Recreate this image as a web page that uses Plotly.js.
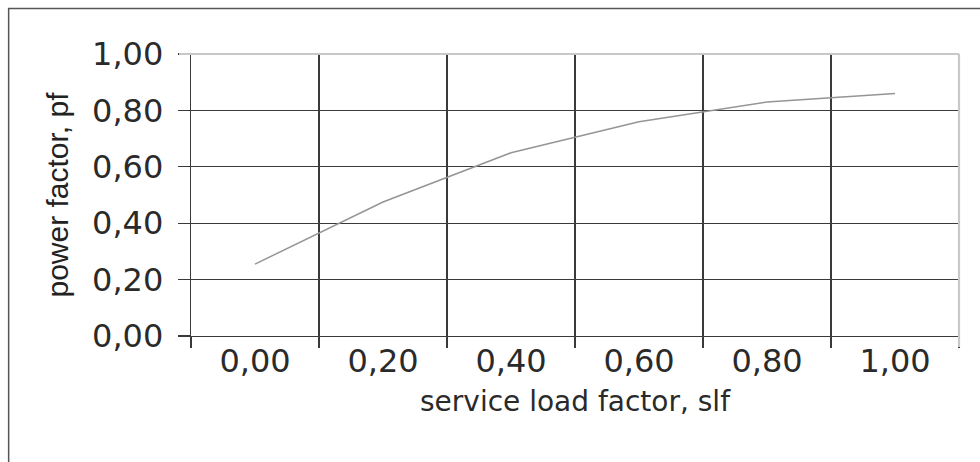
<!DOCTYPE html>
<html>
<head>
<meta charset="utf-8">
<script src="https://cdn.plot.ly/plotly-3.0.1.min.js"></script>
<style>html,body{margin:0;padding:0;background:#fff;}#chart{width:980px;height:462px;}</style>
</head>
<body>
<div id="chart"></div>
<script>
// Data
const slf = [0.0, 0.2, 0.4, 0.6, 0.8, 1.0];           // service load factor (categories)
const pf  = [0.255, 0.475, 0.65, 0.76, 0.83, 0.86];   // power factor
const gridX = [-0.1, 0.1, 0.3, 0.5, 0.7, 0.9, 1.1];   // category boundaries (gridlines)
const yTicks = [0, 0.2, 0.4, 0.6, 0.8, 1.0];

const trace = {
  x: slf, y: pf, type: 'scatter', mode: 'lines',
  line: {color: '#959595', width: 1.5},
  xaxis: 'x', yaxis: 'y', hoverinfo: 'skip', showlegend: false
};
// invisible trace to activate label axis
const labelTrace = {
  x: slf, y: pf, type: 'scatter', mode: 'lines',
  line: {color: 'rgba(0,0,0,0)', width: 0},
  xaxis: 'x2', yaxis: 'y', hoverinfo: 'skip', showlegend: false
};

const gridCol = '#3a3a3a';
const layout = {
  width: 980, height: 462,
  margin: {l: 191, r: 21, t: 54, b: 126},
  paper_bgcolor: '#ffffff', plot_bgcolor: '#ffffff',
  separators: ',.',
  showlegend: false,
  font: {family: 'DejaVu Sans', color: '#2a2a2a'},
  xaxis: {
    range: [-0.1, 1.1], tickmode: 'array', tickvals: gridX,
    ticktext: gridX.map(() => ''),
    showgrid: true, gridcolor: gridCol, gridwidth: 1.2,
    ticks: 'outside', ticklen: 11, tickcolor: gridCol, tickwidth: 1.2,
    showline: true, linecolor: gridCol, linewidth: 1.3,
    zeroline: false, fixedrange: true
  },
  xaxis2: {
    overlaying: 'x', anchor: 'y', side: 'bottom',
    range: [-0.1, 1.1], tickmode: 'array', tickvals: slf,
    tickformat: '.2f',
    ticks: '', ticklabelstandoff: 3,
    tickfont: {family: 'DejaVu Sans', size: 32, color: '#2a2a2a'},
    showgrid: false, showline: false, zeroline: false,
    title: {text: 'service load factor, slf', standoff: 12,
            font: {family: 'DejaVu Sans', size: 28, color: '#2a2a2a'}},
    fixedrange: true
  },
  yaxis: {
    range: [0, 1.0], tickmode: 'array', tickvals: yTicks,
    tickformat: '.2f',
    tickfont: {family: 'DejaVu Sans', size: 32, color: '#2a2a2a'},
    showgrid: true, gridcolor: gridCol, gridwidth: 1.2,
    ticks: 'outside', ticklen: 12, tickcolor: gridCol, tickwidth: 1.2,
    ticklabelstandoff: 8,
    showline: true, linecolor: gridCol, linewidth: 1.3,
    zeroline: false,
    title: {text: 'power factor, pf', standoff: 14,
            font: {family: 'Liberation Sans', size: 30, color: '#222'}},
    fixedrange: true
  },
  shapes: [
    // light top border of plot area (covers top gridline and tick)
    {type: 'line', xref: 'paper', yref: 'paper', x0: -12/768.6, x1: 1, y0: 1, y1: 1,
     line: {color: '#c8c8c8', width: 2.2}, layer: 'above'},
    // light right border of plot area (covers last gridline and tick)
    {type: 'line', xref: 'paper', yref: 'paper', x0: 1, x1: 1, y0: -11/281.7, y1: 1,
     line: {color: '#c8c8c8', width: 2.2}, layer: 'above'},
    // outer chart frame
    {type: 'rect', xref: 'paper', yref: 'paper',
     x0: (8.5 - 191) / 768.6, x1: 1.1, y0: -0.6, y1: 1 + (54 - 8.5) / 281.7,
     line: {color: '#555', width: 1.5}, fillcolor: 'rgba(0,0,0,0)', layer: 'above'}
  ]
};

Plotly.newPlot('chart', [trace, labelTrace], layout, {displayModeBar: false, staticPlot: true});
</script>
</body>
</html>
